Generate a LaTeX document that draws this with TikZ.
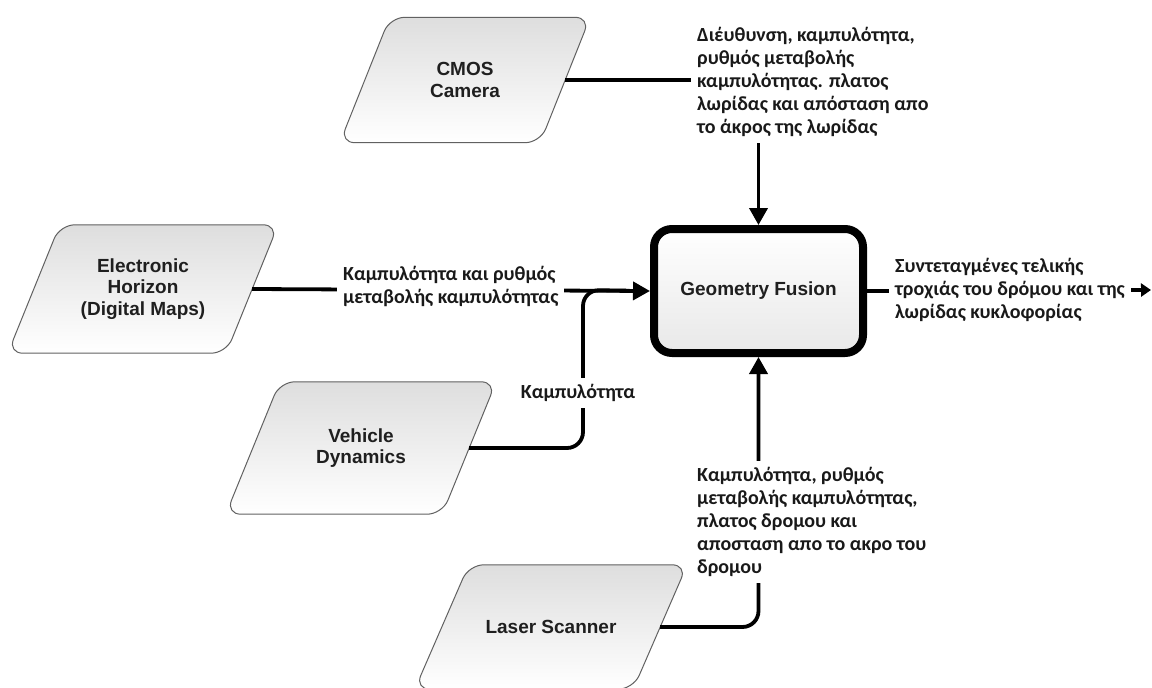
\documentclass[tikz,border=0pt]{standalone}
\usepackage{fontspec}
\setmainfont{Liberation Sans}
\newfontfamily\grk{Carlito}
\usetikzlibrary{arrows.meta,backgrounds}

\tikzset{
  src/.style={rectangle, inner sep=0pt, align=center,
    font=\fontsize{19}{21.5}\selectfont\bfseries, text=black!88},
  paraline/.style={draw=black!62, line width=1pt, rounded corners=15pt,
    top color=black!13, bottom color=white},
  fusion/.style={rectangle, draw=black, line width=8pt, rounded corners=18pt,
    minimum width=209pt, minimum height=124pt, top color=white, bottom color=black!9,
    font=\fontsize{19}{21.5}\selectfont\bfseries, text=black!88},
  conn/.style={line width=3.8pt, rounded corners=16pt},
  head/.style={-{Triangle[length=17pt,width=18pt]}},
  smallhead/.style={-{Triangle[length=10pt,width=13pt]}},
  lbl/.style={font=\grk\fontsize{20}{23}\selectfont\bfseries, align=left,
    fill=white, inner xsep=6pt, inner ysep=6pt, text=black!90},
}

% parallelogram drawn round a node: #1 node name, #2 half of the horizontal skew
\newcommand\parashape[2]{%
  \path[paraline] ([xshift=-#2]#1.south west) -- ([xshift=#2]#1.north west)
    -- ([xshift=#2]#1.north east) -- ([xshift=-#2]#1.south east) -- cycle;}

\begin{document}
\begin{tikzpicture}[x=1pt,y=-1pt]
\path[use as bounding box] (0,0) rectangle (1152,688);

% data sources
\node[src, minimum width=200pt, minimum height=125pt] (cmos) at (465,80) {CMOS\\Camera};
\node[src, minimum width=218pt, minimum height=128pt] (ehor) at (143,289) {Electronic\\Horizon\\(Digital Maps)};
\node[src, minimum width=216pt, minimum height=132pt] (vdyn) at (361,448) {Vehicle\\Dynamics};
\node[src, minimum width=218pt, minimum height=124pt] (lasr) at (551,627) {Laser Scanner};

% fusion block
\node[fusion] (fus) at (758.5,291) {Geometry Fusion};

% connector labels
\node[lbl, anchor=west] (toplbl) at (691,82) {Διέυθυνση, καμπυλότητα,\\ρυθμός μεταβολής\\καμπυλότητας. πλατος\\λωρίδας και απόσταση απο\\το άκρος της λωρίδας};
\node[lbl, anchor=west] (ehlbl) at (337,286) {Καμπυλότητα και ρυθμός\\μεταβολής καμπυλότητας};
\node[lbl] (vdlbl) at (578,393) {Καμπυλότητα};
\node[lbl, anchor=west] (outlbl) at (889,290) {Συντεταγμένες τελικής\\τροχιάς του δρόμου και της\\λωρίδας κυκλοφορίας};
\node[lbl, anchor=west] (lslbl) at (691,522) {Καμπυλότητα, ρυθμός\\μεταβολής καμπυλότητας,\\πλατος δρομου και\\αποσταση απο το ακρο του\\δρομου};

\coordinate (jn) at (583,290);
\coordinate (outend) at (1151,290);

\begin{scope}[on background layer]
  \fill[white] (0,0) rectangle (1152,688);
  \parashape{cmos}{25pt}
  \parashape{ehor}{26pt}
  \parashape{vdyn}{27pt}
  \parashape{lasr}{27pt}

  \draw[conn] (cmos.east) -- (cmos.east -| toplbl.west);
  \draw[conn, head] (fus.north |- toplbl.south) -- (fus.north);
  \draw[conn, head] (ehor.east) -- (fus.west);
  \draw[conn, shorten >=24pt] (vdyn.east) -| (jn) -- (fus.west);
  \draw[conn, head] (lasr.east) -| (fus.south);
  \draw[conn, smallhead] (fus.east) -- (outend);
\end{scope}
\end{tikzpicture}
\end{document}
